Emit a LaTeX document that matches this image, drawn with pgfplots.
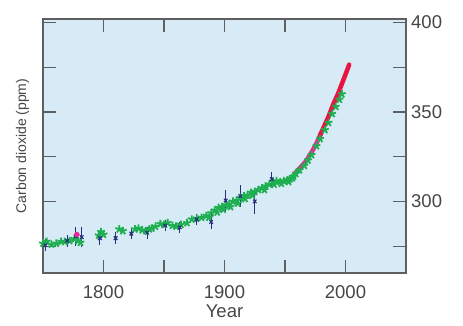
\documentclass[border=0pt]{standalone}
\usepackage{fontspec}
\setmainfont{Liberation Sans}
\usepackage{pgfplots}
\pgfplotsset{compat=1.18}
\definecolor{bgblue}{RGB}{214,235,246}
\definecolor{frame}{RGB}{95,95,95}
\definecolor{txt}{RGB}{70,70,70}
\definecolor{gr}{RGB}{30,175,80}
\definecolor{bl}{RGB}{40,45,125}
\definecolor{mag}{RGB}{235,40,150}
\definecolor{rd}{RGB}{232,20,65}
\begin{document}
\begin{tikzpicture}
\begin{axis}[
  scale only axis, width=363pt, height=254pt,
  xmin=1750, xmax=2050, ymin=260, ymax=402,
  axis background/.style={fill=bgblue},
  axis line style={frame, line width=1.3pt},
  every tick/.style={frame, line width=1.3pt},
  major tick length=13pt, minor tick length=13pt,
  tick align=inside,
  xtick={1800,1900,2000}, minor xtick={1850,1950},
  ytick={300,350,400}, minor ytick={275,325,375},
  yticklabel pos=right,
  /pgf/number format/assume math mode=true,
  /pgf/number format/1000 sep={},
  tick label style={font=\fontsize{18.5}{21}\selectfont, text=txt},
  xticklabel style={inner sep=0pt, anchor=north, yshift=-12pt},
  yticklabel style={inner sep=0pt, anchor=west, xshift=5pt},
  xlabel={Year},
  xlabel style={at={(axis description cs:0.5,-0.125)}, anchor=north, inner sep=0pt, font=\fontsize{18.5}{21}\selectfont, text=txt},
  ylabel={Carbon dioxide (ppm)},
  ylabel style={at={(axis description cs:-0.038,0.5)}, anchor=south, inner sep=0pt, rotate=0, font=\fontsize{14}{16}\selectfont, text=txt},
  clip=false,
]
% green ice-core points
\addplot[only marks, mark=star, mark size=4pt, gr, line width=1.8pt] coordinates {
(1750,276.5)(1753,277.5)(1757,276)(1761,276.5)(1765,277.5)(1768,277.5)(1772,278)
(1776,279)(1779,278)(1781,277)(1796,281)(1798,283)(1800,281.5)(1813,284.5)
(1816,283.5)(1826,284.5)(1829,285)(1832,284)(1835,283.5)(1838,284.5)(1840,285)(1843,286)
(1847,287.5)(1850,287)(1853,288)(1857,286.5)(1860,286)(1864,287)(1869,288)
(1873,290)(1877,290.5)(1881,291)(1885,292)(1887,291)(1889,293.5)(1892,295)(1894,294)(1895,296.5)
(1898,297)(1899,295.5)(1901,298)(1904,298.5)(1905,297)(1907,300)(1910,300.5)(1911,299)(1913,302)(1916,303)
(1917,301.5)(1919,303.5)(1922,305)(1923,303.5)(1925,305.5)(1928,306.5)(1931,307.5)(1933,306.5)(1934,308.5)
(1937,309.5)(1940,311)(1941,309.5)(1943,311.5)(1946,311)(1947,310)(1949,311.5)(1952,312)(1953,311)(1954,312.5)
(1956,313)(1957,314)(1959,315.5)(1962,317.5)(1966,320)(1969,323)(1972,326)(1976,331)
(1979,335)(1983,340)(1986,344)(1989,349)(1992,353)(1995,357)(1997,360)
};
% blue points with error bars
\addplot[only marks, mark=x, mark size=2.5pt, bl, line width=1.1pt,
  error bars/.cd, y dir=both, y explicit, error mark=-,
  error mark options={mark size=4pt, line width=1.1pt},
  error bar style={line width=1.1pt}] coordinates {
(1752,275.5) +- (0,1)
(1770,278) +- (0,1)
(1777,280.5) +- (0,3)
(1782,280) +- (0,3.5)
(1797,279.5) +- (0,1.5)
(1810,279.5) +- (0,1)
(1823,282) +- (0,1)
(1836,282.5) +- (0,1)
(1851,286.5) +- (0,1)
(1863,285.5) +- (0,1)
(1877,290) +- (0,1)
(1889,288.5) +- (0,1.5)
(1901,300.5) +- (0,3.8)
(1913,303) +- (0,3.8)
(1925,300) +- (0,4.5)
(1939,312.5) +- (0,1.5)
};
% magenta point
\addplot[only marks, mark=*, mark size=2.5pt, mag] coordinates {(1778,281.5)};
% Mauna Loa line
\addplot[mag, line width=4.5pt, line cap=round] coordinates {
(1958,315.5)(1960,317)(1962,318.5)(1964,320)(1966,321.5)(1968,323)(1970,325.5)
(1972,327.5)(1974,330)(1976,332.5)(1978,335.5)(1980,338.5)
};
\addplot[rd, line width=4.5pt, line cap=round] coordinates {
(1979,337)(1980,338.5)(1982,341.5)(1984,344.5)(1986,347.5)(1988,351)(1990,354.5)
(1992,357.5)(1994,360.5)(1996,364)(1998,367.5)(2000,371)(2002,374.5)(2003,376.5)
};
\end{axis}
\path (current axis.south west) ++(-43pt,-52pt) coordinate (bbA);
\path (current axis.north east) ++(57pt,19pt) coordinate (bbB);
\path (bbA) rectangle (bbB);
\end{tikzpicture}
\end{document}
